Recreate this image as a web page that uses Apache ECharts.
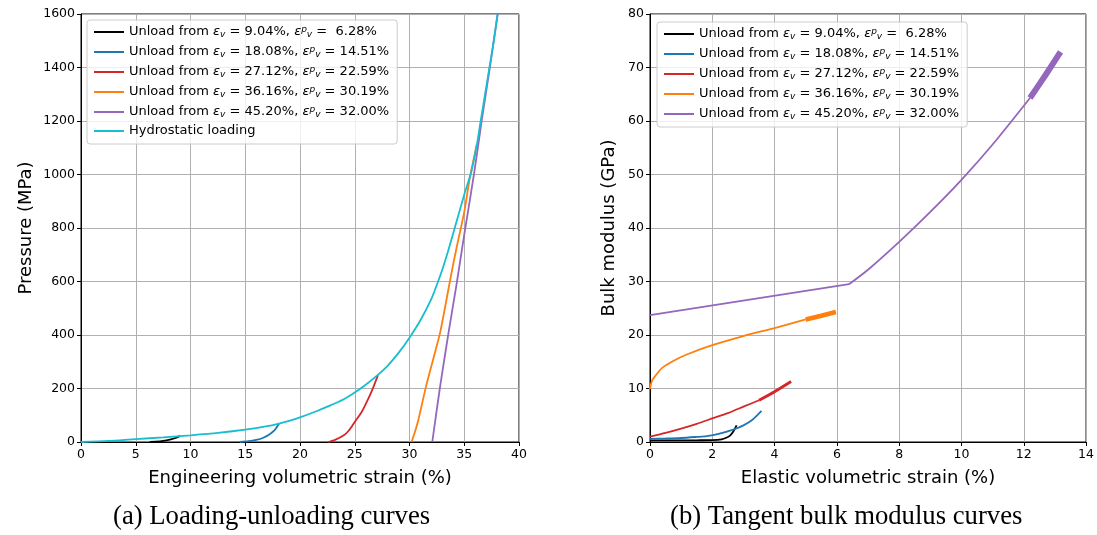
<!DOCTYPE html>
<html>
<head>
<meta charset="utf-8">
<script src="https://cdn.jsdelivr.net/npm/echarts@6/dist/echarts.min.js"></script>
<style>
  html, body { margin: 0; padding: 0; background: #fff; }
  #main { width: 1097px; height: 535px; }
</style>
</head>
<body>
<div id="main"></div>
<script>
// legend values
const unloadFrom = ['9.04', '18.08', '27.12', '36.16', '45.20'];
const plasticStrain = [' 6.28', '14.51', '22.59', '30.19', '32.00'];

// (a) pressure vs engineering volumetric strain, [strain %, MPa]
const hydroLoading = [[0,0],[2.5,4],[5,11],[7.5,17],[10,25],[12.5,34],[15,46],[17,59],[18,68],[19,79],
  [20,92],[21.5,115],[22.5,132],[24,160],[25,185],[26,214],[27,247],[28,285],[29,333],[30,390],
  [31,455],[32,535],[32.5,588],[33,645],[33.5,710],[34.2,810],[35,925],[35.6,1004],[36.1,1100],[36.5,1200],
  [36.9,1300],[37.3,1400],[37.7,1500],[38.05,1600]];
const unloadA1 = [[6.28,0],[6.8,1],[7.5,4],[8.2,10],[8.7,16],[9.04,23]];
const unloadA2 = [[14.51,0],[15.3,3],[16.0,8],[16.6,15],[17.2,28],[17.7,45],[18.08,68]];
const unloadA3 = [[22.59,0],[23.2,8],[24.0,25],[24.5,45],[25.0,75],[25.6,110],[26.1,150],[26.6,195],[27.12,250]];
const unloadA4 = [[30.19,0],[30.5,38],[30.8,81],[31.5,206],[32.2,315],[32.8,410],[33.3,515],[33.8,625],[34.25,717],
  [35.0,860],[35.5,985],[36.16,1115]];
const unloadA5 = [[32.08,0],[32.79,206],[33.55,405],[34.3,590],[35.0,775],[35.9,1004],[36.6,1203],
  [37.35,1403],[38.05,1600]];

// (b) tangent bulk modulus vs elastic volumetric strain, [strain %, GPa]
const bulkB1 = [[0,0.3],[0.5,0.3],[1,0.3],[1.5,0.32],[2,0.35],[2.3,0.5],[2.45,0.8],[2.57,1.2],[2.68,2.0],[2.78,3.1]];
const bulkB2 = [[0,0.6],[0.5,0.65],[1,0.75],[1.5,0.95],[1.82,1.1],[2.2,1.5],[2.67,2.3],[3.0,3.1],[3.3,4.2],[3.58,5.8]];
const bulkB3 = [[0,1.0],[0.5,1.7],[1,2.5],[1.5,3.4],[2,4.4],[2.5,5.4],[3,6.6],[3.5,7.8]];
const bulkB3Tail = [[3.5,7.8],[4,9.4],[4.53,11.3]];
const bulkB4 = [[0,9.9],[0.03,10.8],[0.08,11.6],[0.15,12.2],[0.23,12.8],[0.4,13.9],[0.76,15.2],[1.2,16.4],[2,18.1],
  [3,19.8],[4,21.3],[5,22.9]];
const bulkB4Tail = [[5,22.9],[5.5,23.6],[5.97,24.3]];
const bulkB5Lin = [[0,23.7],[6.39,29.5]];
const bulkB5 = [[6.39,29.5],[7,32.2],[8,37.4],[9,43.0],[10,49.0],[11,55.6],[12.2,64.3]];
const bulkB5Tail = [[12.2,64.3],[12.7,68.6],[13.18,72.9]];

const colors = ['#000000', '#1f77b4', '#d62728', '#ff7f0e', '#9467bd', '#17becf'];

const names = unloadFrom.map((u, i) => 'Unload from εv = ' + u + '%, εvp = ' + plasticStrain[i] + '%');
names.push('Hydrostatic loading');

function legendText(name) {
  let i = names.indexOf(name);
  if (i < 0 || i > 4) return name;
  return 'Unload from {e|ε}{sub|v} = ' + unloadFrom[i] + '%, {e|ε}{sup|p}{sub|v} = ' + plasticStrain[i] + '%';
}

const rich = {
  e: { fontFamily: 'DejaVu Sans', fontStyle: 'italic', fontSize: 13, color: '#000' },
  sup: { fontFamily: 'DejaVu Sans', fontStyle: 'italic', fontSize: 9, color: '#000', verticalAlign: 'top', lineHeight: 9 },
  sub: { fontFamily: 'DejaVu Sans', fontStyle: 'italic', fontSize: 9, color: '#000', verticalAlign: 'bottom', lineHeight: 9, padding: [6, 0, 0, 0] }
};

let container = document.getElementById('main');
let chart = echarts.init(container);

const tickFont = { fontFamily: 'DejaVu Sans', fontSize: 12.5, color: '#000' };
const nameFont = { fontFamily: 'DejaVu Sans', fontSize: 18, color: '#000' };

function axisBase() {
  return {
    axisLine: { show: true, onZero: false, lineStyle: { color: '#000', width: 1 } },
    axisTick: { show: true, inside: false, length: 4, lineStyle: { color: '#000' } },
    axisLabel: Object.assign({ margin: 6, formatter: v => String(v) }, tickFont),
    splitLine: { show: true, lineStyle: { color: '#b0b0b0', width: 1 } },
    nameTextStyle: nameFont,
    nameLocation: 'middle'
  };
}

function line(name, data, color, xi, width) {
  return {
    name: name, type: 'line', data: data,
    xAxisIndex: xi, yAxisIndex: xi,
    showSymbol: false, symbol: 'none',
    smooth: 0.25,
    lineStyle: { color: color, width: width || 1.8 },
    itemStyle: { color: color },
    animation: false
  };
}

const legendBase = {
  orient: 'vertical',
  icon: 'rect',
  itemWidth: 30,
  itemHeight: 2,
  itemGap: 5,
  padding: [4, 8, 6, 7],
  backgroundColor: 'rgba(255,255,255,0.8)',
  borderColor: '#cccccc',
  borderWidth: 1,
  borderRadius: 3,
  selectedMode: false,
  formatter: legendText,
  textStyle: { fontFamily: 'DejaVu Sans', fontSize: 13, color: '#000', lineHeight: 14, rich: rich }
};

const option = {
  backgroundColor: '#fff',
  animation: false,
  grid: [
    { left: 81, right: 578, top: 14, bottom: 93, show: true, borderColor: '#000', borderWidth: 1, backgroundColor: 'transparent' },
    { left: 650, right: 9, top: 14, bottom: 93, show: true, borderColor: '#000', borderWidth: 1, backgroundColor: 'transparent' }
  ],
  xAxis: [
    Object.assign(axisBase(), { type: 'value', gridIndex: 0, min: 0, max: 40, interval: 5, name: 'Engineering volumetric strain (%)', nameGap: 27 }),
    Object.assign(axisBase(), { type: 'value', gridIndex: 1, min: 0, max: 14, interval: 2, name: 'Elastic volumetric strain (%)', nameGap: 27 })
  ],
  yAxis: [
    Object.assign(axisBase(), { type: 'value', gridIndex: 0, min: 0, max: 1600, interval: 200, name: 'Pressure (MPa)', nameGap: 46 }),
    Object.assign(axisBase(), { type: 'value', gridIndex: 1, min: 0, max: 80, interval: 10, name: 'Bulk modulus (GPa)', nameGap: 32 })
  ],
  legend: [
    Object.assign({}, legendBase, { left: 87, top: 20, data: names }),
    Object.assign({}, legendBase, { left: 657, top: 22, data: names.slice(0, 5) })
  ],
  graphic: [
    { type: 'text', left: 113, top: 503, style: { text: '(a) Loading-unloading curves', font: '26.7px "Liberation Serif"', fill: '#000' } },
    { type: 'text', left: 670, top: 503, style: { text: '(b) Tangent bulk modulus curves', font: '26.7px "Liberation Serif"', fill: '#000' } }
  ],
  series: [
    line(names[0], unloadA1, colors[0], 0),
    line(names[1], unloadA2, colors[1], 0),
    line(names[2], unloadA3, colors[2], 0),
    line(names[3], unloadA4, colors[3], 0),
    line(names[4], unloadA5, colors[4], 0),
    line(names[5], hydroLoading, colors[5], 0),

    line(names[0], bulkB1, colors[0], 1),
    line(names[1], bulkB2, colors[1], 1),
    line(names[2], bulkB3, colors[2], 1),
    line(names[2], bulkB3Tail, colors[2], 1, 3),
    line(names[3], bulkB4, colors[3], 1),
    line(names[3], bulkB4Tail, colors[3], 1, 4.5),
    line(names[4], bulkB5Lin, colors[4], 1),
    line(names[4], bulkB5, colors[4], 1),
    line(names[4], bulkB5Tail, colors[4], 1, 6)
  ]
};

chart.setOption(option);
</script>
</body>
</html>
